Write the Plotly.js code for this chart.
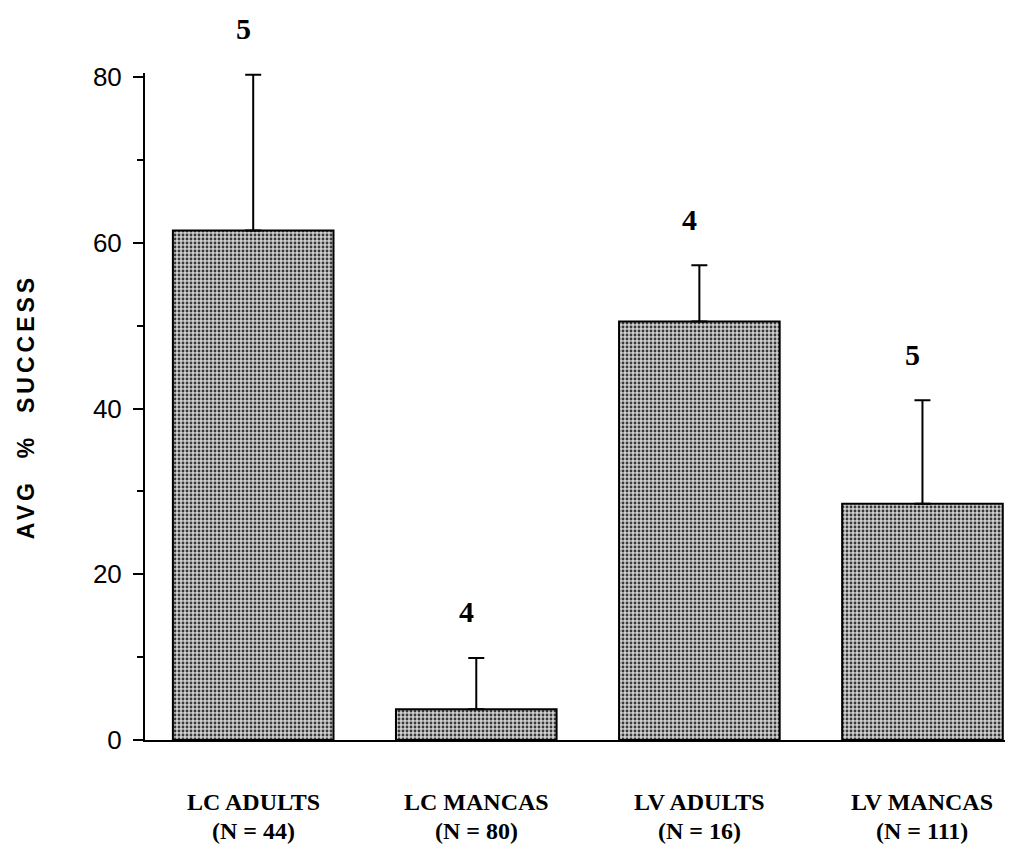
<!DOCTYPE html>
<html>
<head>
<meta charset="utf-8">
<script src="https://cdn.plot.ly/plotly-3.0.1.min.js"></script>
<style>
html,body{margin:0;padding:0;background:#fff;}
#chart{width:1019px;height:855px;}
.ytitle{letter-spacing:4px;}
</style>
</head>
<body>
<div id="chart"></div>
<script>
const categories = ["LC ADULTS", "LC MANCAS", "LV ADULTS", "LV MANCAS"];
const sampleSizes = ["(N = 44)", "(N = 80)", "(N = 16)", "(N = 111)"];
const avgSuccess = [61.5, 3.7, 50.5, 28.5];
const errorPlus = [18.8, 6.2, 6.8, 12.5];
const groupCounts = ["5", "4", "4", "5"];
const yTickVals = [0, 20, 40, 60, 80];

const xIdx = categories.map((c, i) => i);
const serif = "Liberation Serif, Times New Roman, serif";

const trace = {
  type: "bar",
  x: xIdx,
  y: avgSuccess,
  width: 0.72,
  marker: {
    color: "#c4c4c4",
    line: {color: "#000", width: 2},
    pattern: {shape: ".", fgcolor: "#3a3a3a", bgcolor: "#d0d0d0", size: 4, solidity: 0.4}
  },
  error_y: {
    type: "data",
    symmetric: false,
    array: errorPlus,
    arrayminus: errorPlus.map(() => 0),
    color: "#000",
    thickness: 2,
    width: 8
  },
  cliponaxis: false,
  hoverinfo: "none"
};

const countNotes = xIdx.map((i) => ({
  x: i,
  y: avgSuccess[i] + errorPlus[i],
  xref: "x",
  yref: "y",
  text: "<b>" + groupCounts[i] + "</b>",
  showarrow: false,
  xshift: -10,
  yshift: 46,
  yanchor: "middle",
  font: {family: serif, size: 30, color: "#000"}
}));

const catNotes = xIdx.map((i) => ({
  x: i, y: 0, xref: "x", yref: "paper",
  text: "<b>" + categories[i] + "</b>",
  showarrow: false, yanchor: "middle", yshift: -62, borderpad: 0,
  font: {family: serif, size: 24, color: "#000"}
}));
const nNotes = xIdx.map((i) => ({
  x: i, y: 0, xref: "x", yref: "paper",
  text: "<b>" + sampleSizes[i] + "</b>",
  showarrow: false, yanchor: "middle", yshift: -91, borderpad: 0,
  font: {family: serif, size: 24, color: "#000"}
}));

const layout = {
  width: 1019,
  height: 855,
  margin: {l: 145, r: 14, t: 73, b: 115},
  paper_bgcolor: "#fff",
  plot_bgcolor: "#fff",
  showlegend: false,
  xaxis: {
    range: [-0.485, 3.37],
    tickvals: xIdx,
    showticklabels: false,
    ticks: "",
    showgrid: false,
    zeroline: false,
    showline: true,
    linecolor: "#000",
    linewidth: 2,
    fixedrange: true
  },
  yaxis: {
    range: [0, 80.5],
    tickvals: yTickVals,
    ticks: "outside",
    ticklen: 10,
    tickwidth: 2,
    tickcolor: "#000",
    ticklabelstandoff: 6,
    minor: {dtick: 10, tick0: 0, ticks: "outside", ticklen: 6, tickwidth: 2, tickcolor: "#000", showgrid: false},
    showgrid: false,
    zeroline: false,
    showline: true,
    linecolor: "#000",
    linewidth: 2,
    tickfont: {family: "Liberation Sans, Arial, sans-serif", size: 26, color: "#000"},
    title: {
      text: "<b>AVG  %  SUCCESS</b>",
      standoff: 52,
      font: {family: "Liberation Sans, Arial, sans-serif", size: 23, color: "#000"}
    },
    automargin: false,
    fixedrange: true
  },
  annotations: countNotes.concat(catNotes, nNotes)
};

Plotly.newPlot("chart", [trace], layout, {displayModeBar: false, staticPlot: true});
</script>
</body>
</html>
